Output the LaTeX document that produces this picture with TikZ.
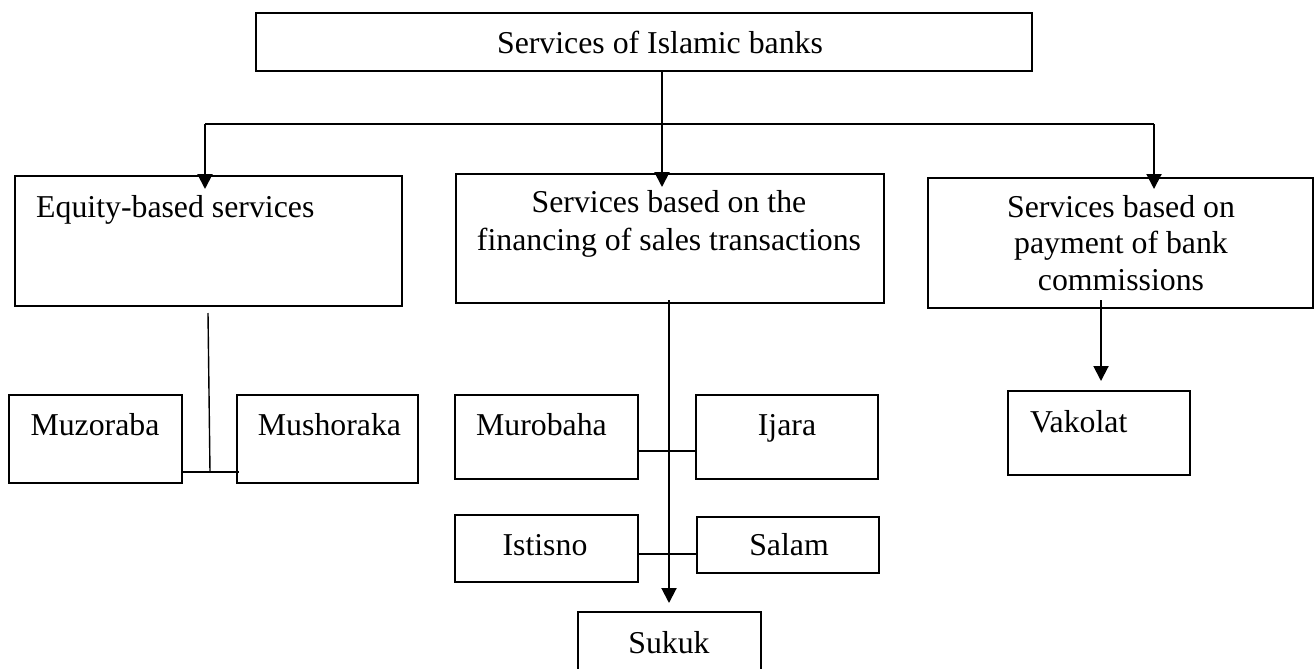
\documentclass[tikz,border=0pt]{standalone}
\usepackage{fontspec}
\setmainfont{Liberation Serif}
\usetikzlibrary{arrows.meta}
\tikzset{
  box/.style={draw=black, line width=2pt, inner sep=0pt, rectangle},
  lbl/.style={inner sep=0pt, font=\fontsize{31.8}{37}\selectfont},
  bus/.style={line width=1.4pt},
  link/.style={line width=1.4pt},
  arr/.style={line width=2pt, -{Triangle[width=15pt,length=15pt]}},
}
\begin{document}
\begin{tikzpicture}[x=1pt,y=-1pt]
\clip (0,0) rectangle (1314,669);
\fill[white] (0,0) rectangle (1314,669);
% boxes
\node[box, minimum width=776pt, minimum height=58pt] (top) at (644,42) {};
\node[box, minimum width=387pt, minimum height=130pt] (eq) at (208.5,241) {};
\node[box, minimum width=428pt, minimum height=129pt] (fin) at (670,238.5) {};
\node[box, minimum width=385pt, minimum height=130pt] (com) at (1120.5,243) {};
\node[box, minimum width=173pt, minimum height=88pt] (mz) at (95.5,439) {};
\node[box, minimum width=181pt, minimum height=88pt] (ms) at (327.5,439) {};
\node[box, minimum width=183pt, minimum height=84pt] (mb) at (546.5,437) {};
\node[box, minimum width=182pt, minimum height=84pt] (ij) at (787,437) {};
\node[box, minimum width=183pt, minimum height=67pt] (is) at (546.5,548.5) {};
\node[box, minimum width=182pt, minimum height=56pt] (sl) at (788,545) {};
\node[box, minimum width=183pt, minimum height=88pt] (sk) at (669.5,656) {};
\node[box, minimum width=182pt, minimum height=84pt] (vk) at (1099,433) {};
% texts
\node[lbl, anchor=base] (ttop) at (660,53) {Services of Islamic banks};
\node[lbl, anchor=base west] (teq) at (36,217) {Equity-based services};
\node[lbl, anchor=base, align=center, font=\fontsize{31.8}{38}\selectfont] (tfin) at (669,250) {Services based on the\\financing of sales transactions};
\node[lbl, anchor=base, align=center, font=\fontsize{31.8}{36.5}\selectfont] (tcom) at (1121,290) {Services based on\\payment of bank\\commissions};
\node[lbl, anchor=base] (tmz) at (95,435) {Muzoraba};
\node[lbl, anchor=base] (tms) at (329.5,435) {Mushoraka};
\node[lbl, anchor=base] (tmb) at (541.5,435) {Murobaha};
\node[lbl, anchor=base] (tij) at (787,435) {Ijara};
\node[lbl, anchor=base] (tis) at (545,555) {Istisno};
\node[lbl, anchor=base] (tsl) at (789,555) {Salam};
\node[lbl, anchor=base] (tsk) at (669,653) {Sukuk};
\node[lbl, anchor=base west] (tvk) at (1030,432) {Vakolat};
% coordinates
\coordinate (busL) at (205,124);
\coordinate (busM) at (662,124);
\coordinate (busR) at (1154,124);
\coordinate (eqdrop) at (208,313);
\coordinate (j1) at (210,472);
\coordinate (fdrop) at (669,300);
\coordinate (j2) at (669,451);
\coordinate (j3) at (669,554);
\coordinate (cdrop) at (1101,300);
% connectors
\draw[link] (top.south -| busM) -- (busM);
\draw[bus] (busL) -- (busR);
\draw[arr] (busL) -- ([yshift=-14pt]eq.north -| busL);
\draw[arr] (busM) -- ([yshift=-14pt]fin.north -| busM);
\draw[arr] (busR) -- ([yshift=-12pt]com.north -| busR);
\draw[link] (eqdrop) -- (j1);
\draw[link] (mz.east |- j1) -- ([xshift=3pt]ms.west |- j1);
\draw[arr, shorten >=8pt] (fdrop) -- (fdrop |- sk.north);
\draw[link] (mb.east |- j2) -- ([xshift=2pt]ij.west |- j2);
\draw[link] (is.east |- j3) -- (sl.west |- j3);
\draw[arr, shorten >=9pt] (cdrop) -- (cdrop |- vk.north);
\end{tikzpicture}
\end{document}
